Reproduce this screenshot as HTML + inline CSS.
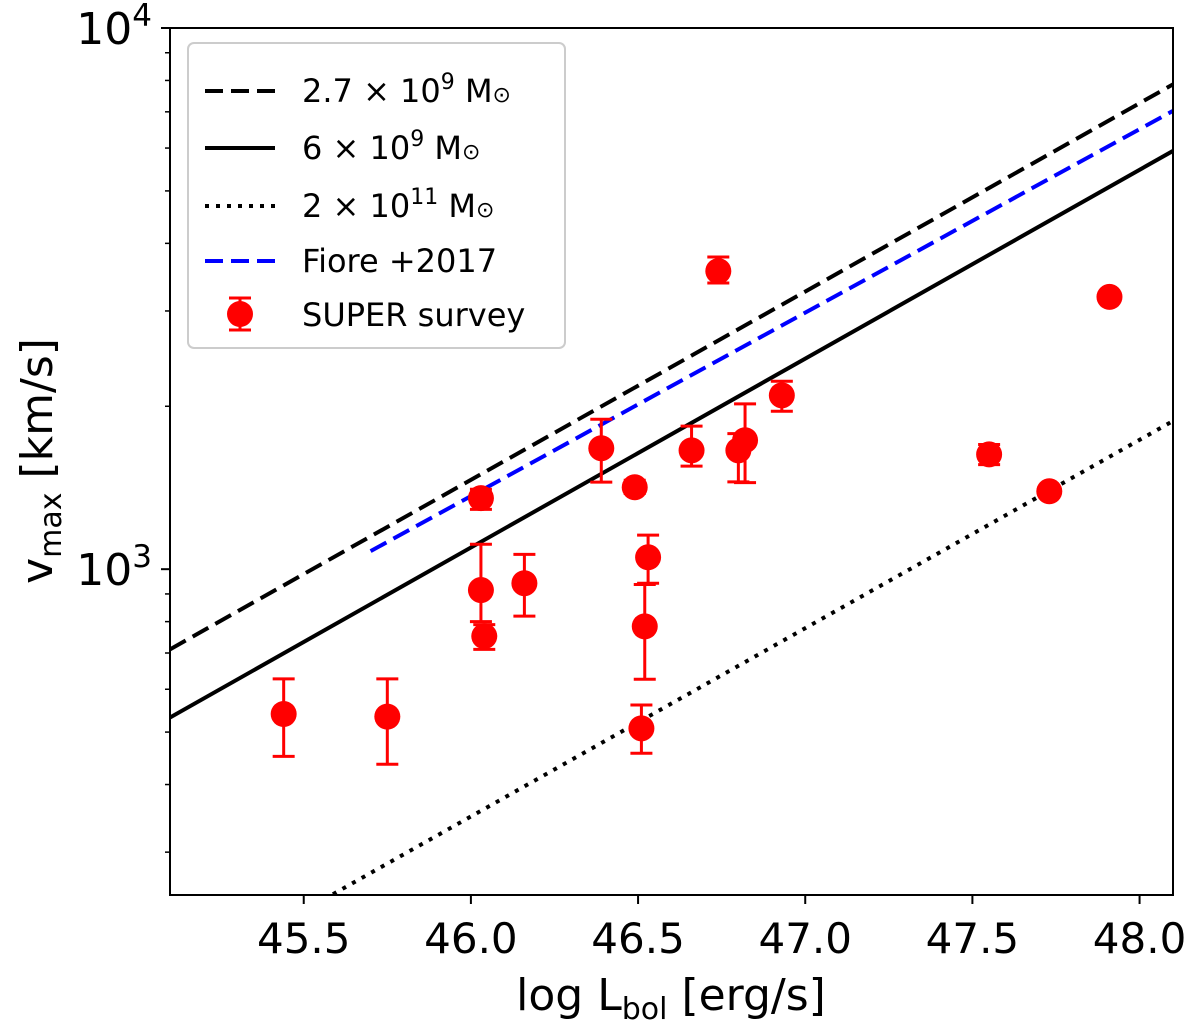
<!DOCTYPE html>
<html><head><meta charset="utf-8"><style>
body{margin:0;background:#fff;}
svg text{font-family:"DejaVu Sans","Liberation Sans",sans-serif;}
</style></head><body>
<svg id="chart" width="1200" height="1023">
<g id="plot"></g>
</svg>
<script>
const lumin = [45.44,45.75,46.03,46.03,46.04,46.16,46.39,46.49,46.51,46.53,46.52,46.66,46.74,46.80,46.82,46.93,47.55,47.73,47.91];
const vmax  = [540,534,1353,915,752,942,1673,1417,508,1052,784,1658,3555,1658,1731,2095,1630,1393,3185];
const errHi = [627,627,1405,1112,790,1065,1893,1460,561,1156,937,1838,3775,1780,2020,2225,1700,1393,3185];
const errLo = [451,436,1290,800,711,819,1448,1380,457,942,626,1550,3379,1450,1445,1958,1560,1393,3185];
const xTicks = [45.5,46.0,46.5,47.0,47.5,48.0];
const xTickLabels = ["45.5","46.0","46.5","47.0","47.5","48.0"];
// model lines: log v = a + b*(logL-46)
const lineA = [3.165,3.040,2.543,3.135];
const lineB = [0.348,0.349,0.348,0.339];
const lineStart = [45.1,45.1,45.1,45.7];

const X0=170,X1=1173,Y0=28,Y1=895,xmin=45.1,xmax=48.1,ymin=Math.log10(250),ymax=4;
const sx=v=>X0+(v-xmin)/(xmax-xmin)*(X1-X0);
const sy=v=>Y1-(Math.log10(v)-ymin)/(ymax-ymin)*(Y1-Y0);
const syl=l=>Y1-(l-ymin)/(ymax-ymin)*(Y1-Y0);
const NS="http://www.w3.org/2000/svg";
const g=document.getElementById('plot');
function mk(t,a,p){const e=document.createElementNS(NS,t);for(const k in a)e.setAttribute(k,a[k]);(p||g).appendChild(e);return e;}
const clip=mk('clipPath',{id:'c'});mk('rect',{x:X0,y:Y0,width:X1-X0,height:Y1-Y0},clip);
const styles=[{stroke:'#000','stroke-dasharray':'18,8'},{stroke:'#000'},{stroke:'#000','stroke-dasharray':'4,7'},{stroke:'#0000ff','stroke-dasharray':'18,8'}];
const names=['line-2p7e9','line-6e9','line-2e11','line-fiore2017'];
for(let i=0;i<4;i++){
  const l0=lineStart[i],l1=xmax;
  const el=mk('line',Object.assign({x1:sx(l0),y1:syl(lineA[i]+lineB[i]*(l0-46)),x2:sx(l1),y2:syl(lineA[i]+lineB[i]*(l1-46)),'stroke-width':4,'clip-path':'url(#c)'},styles[i]));
  
  
}
for(let i=0;i<lumin.length;i++){
  const x=sx(lumin[i]);
  if(errHi[i]!==errLo[i]){
    const e=mk('path',{d:`M${x},${sy(errHi[i])}V${sy(errLo[i])}M${x-11},${sy(errHi[i])}h22M${x-11},${sy(errLo[i])}h22`,stroke:'#ff0000','stroke-width':3,fill:'none'});
    
    
  }
  const c=mk('circle',{cx:x,cy:sy(vmax[i]),r:13,fill:'#ff0000'});
  
  
}
mk('rect',{x:X0,y:Y0,width:X1-X0,height:Y1-Y0,fill:'none',stroke:'#000','stroke-width':2});
xTicks.forEach((t,i)=>{
  const x=sx(t);
  mk('line',{x1:x,y1:Y1,x2:x,y2:Y1+9,stroke:'#000','stroke-width':2});
  const tx=mk('text',{x:x,y:Y1+58,'text-anchor':'middle','font-size':42});
  tx.textContent=xTickLabels[i];
  
  
});
for(let d=2;d<=4;d++){for(let m=1;m<10;m++){const v=m*Math.pow(10,d);if(v<250||v>10000)continue;
  const y=sy(v);mk('line',{x1:X0,y1:y,x2:X0-(m===1?9:5),y2:y,stroke:'#000','stroke-width':m===1?2:1.5});}}
[[3,'y-tick-1e3'],[4,'y-tick-1e4']].forEach(([p,n])=>{
  const t=mk('text',{x:X0-18,y:sy(Math.pow(10,p))+16,'text-anchor':'end','font-size':44});
  t.innerHTML='10<tspan dy="-18" font-size="31">'+p+'</tspan>';
  
  
});
</script>
<svg style="position:absolute;left:0;top:0" width="1200" height="1023">
<text x="671" y="1010" text-anchor="middle" font-size="44">log L<tspan font-size="30" dy="9">bol</tspan><tspan dy="-9"> [erg/s]</tspan></text>
<text transform="translate(52,461) rotate(-90)" text-anchor="middle" font-size="44">v<tspan font-size="30" dy="9">max</tspan><tspan dy="-9"> [km/s]</tspan></text>
<g>
<rect x="188" y="43" width="377" height="305" rx="6" fill="#fff" fill-opacity="0.85" stroke="#ccc" stroke-width="2"/>
<line x1="205" y1="91" x2="275" y2="91" stroke="#000" stroke-width="4" stroke-dasharray="18,8"/>
<text x="302" y="102" font-size="32">2.7 × 10<tspan dy="-13" font-size="22">9</tspan><tspan dy="13"> M</tspan><tspan font-size="22">⊙</tspan></text>
<line x1="205" y1="148" x2="275" y2="148" stroke="#000" stroke-width="4"/>
<text x="302" y="159" font-size="32">6 × 10<tspan dy="-13" font-size="22">9</tspan><tspan dy="13"> M</tspan><tspan font-size="22">⊙</tspan></text>
<line x1="205" y1="206" x2="275" y2="206" stroke="#000" stroke-width="4" stroke-dasharray="4,7"/>
<text x="302" y="217" font-size="32">2 × 10<tspan dy="-13" font-size="22">11</tspan><tspan dy="13"> M</tspan><tspan font-size="22">⊙</tspan></text>
<line x1="205" y1="261" x2="275" y2="261" stroke="#0000ff" stroke-width="4" stroke-dasharray="18,8"/>
<text x="302" y="272" font-size="32">Fiore +2017</text>
<path d="M240,298V330M229,298h22M229,330h22" stroke="#ff0000" stroke-width="3"/>
<circle cx="240" cy="314" r="13" fill="#ff0000"/>
<text x="302" y="326" font-size="32">SUPER survey</text>
</g>
</svg>
</body></html>
